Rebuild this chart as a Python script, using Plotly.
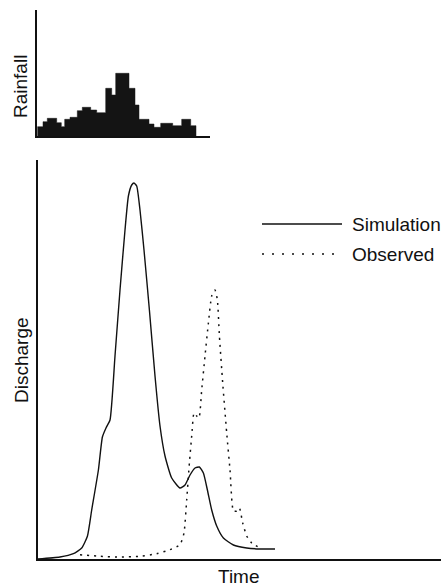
import plotly.graph_objects as go

W, H = 441, 587

# ---- Data (arbitrary units) ----
rain_edges = [0, 5.7, 10, 19.4, 24, 27.4, 32.7, 40, 45, 53.4, 59.4, 68.4, 74.4,
              78.4, 91.7, 97.7, 101.7, 111.7, 116.7, 123.4, 135.4, 144.4, 153.4, 158.7]
rain_values = [9.3, 14.3, 17.7, 13.3, 9.3, 16.7, 18.7, 25.3, 28.7, 26, 23.3, 47.7,
               41, 62.7, 47.7, 31, 16.7, 12, 8.7, 12.7, 10.3, 16.7, 10.3]

sim_t = [0, 22.3, 35.7, 44, 49.7, 54, 60.7, 64.7, 68.3, 72.3, 77.3, 82.3, 87.3, 90.7,
         94, 96.3, 99, 102.3, 106.3, 111.7, 117.3, 122.3, 127.3, 134, 142.3, 147.3,
         152.3, 157.3, 161.7, 165.7, 169.7, 174, 179, 185.7, 195.7, 209, 222.3, 237.3]
sim_q = [0, 2, 5.3, 11, 22.7, 49, 89, 122, 131, 139, 203, 269, 329, 363,
         374, 376, 373, 349, 309, 249, 183, 133, 103, 81, 71, 74,
         84, 91, 92, 86, 69, 49, 33, 21, 14, 11, 10, 10]

obs_t = [42.3, 62.3, 82.3, 102.3, 119, 132.3, 142.3, 146.3, 149, 151.7, 154, 156.3,
         159, 161.3, 164, 167.3, 170.7, 174, 177.3, 179.7, 181.7, 185, 189, 192.3,
         195.7, 199, 201.7, 205, 209, 214, 222.3]
obs_q = [4.3, 2.7, 2, 2.7, 5.3, 9.3, 14.3, 26, 59, 96, 123, 146,
         143, 141, 169, 203, 236, 263, 269, 259, 223, 176, 126, 89,
         48, 48, 51, 36, 23, 16, 11]

legend_names = ["Simulation", "Observed"]
axis_titles = {"rain_y": "Rainfall", "q_y": "Discharge", "x": "Time"}


def px(x):
    return x / W


def py(y):
    return 1 - y / H


FONT = "Liberation Sans, Arial, sans-serif"
FS = 19

fig = go.Figure()

# Rainfall hyetograph (step fill)
rx = []
ry = []
for i, v in enumerate(rain_values):
    rx += [rain_edges[i], rain_edges[i + 1]]
    ry += [v, v]
rx = [rain_edges[0]] + rx + [rain_edges[-1]]
ry = [0] + ry + [0]
fig.add_trace(go.Scatter(x=rx, y=ry, mode="lines", fill="toself",
                         fillcolor="#141414", line=dict(color="#141414", width=0.5),
                         xaxis="x", yaxis="y", showlegend=False, hoverinfo="skip"))

# Discharge curves
fig.add_trace(go.Scatter(x=sim_t, y=sim_q, mode="lines", name=legend_names[0],
                         line=dict(color="#111", width=1.4, shape="spline", smoothing=0.5),
                         xaxis="x2", yaxis="y2", showlegend=False))
fig.add_trace(go.Scatter(x=obs_t, y=obs_q, mode="lines", name=legend_names[1],
                         line=dict(color="#111", width=1.5, dash="2px,5px",
                                   shape="spline", smoothing=0.5),
                         xaxis="x2", yaxis="y2", showlegend=False))

ax_common = dict(showgrid=False, zeroline=False, showticklabels=False, ticks="",
                 showline=True, linecolor="#111", linewidth=1.5)

fig.update_layout(
    width=W, height=H,
    margin=dict(l=0, r=0, t=0, b=0),
    paper_bgcolor="white", plot_bgcolor="white",
    xaxis=dict(domain=[px(37.3), px(210)], range=[0, 172.7], anchor="y", **ax_common),
    yaxis=dict(domain=[py(136), py(10)], range=[0, 126], anchor="x", **ax_common),
    xaxis2=dict(domain=[px(37.7), 1], range=[0, 403.3], anchor="y2", **ax_common),
    yaxis2=dict(domain=[py(559), py(160)], range=[0, 399], anchor="x2", **ax_common),
    showlegend=False,
)

font = dict(family=FONT, size=FS, color="#111")
ann = [
    dict(text=axis_titles["rain_y"], x=px(20), y=py(87), textangle=-90),
    dict(text=axis_titles["q_y"], x=px(21), y=py(360), textangle=-90),
    dict(text=axis_titles["x"], x=px(239), y=py(576)),
    dict(text=legend_names[0], x=px(351), y=py(224), xanchor="left"),
    dict(text=legend_names[1], x=px(351), y=py(254), xanchor="left"),
]
for a in ann:
    a.setdefault("xanchor", "center")
    fig.add_annotation(xref="paper", yref="paper", yanchor="middle", showarrow=False,
                       borderpad=0, font=font, **a)

# custom legend keys
fig.add_shape(type="line", xref="paper", yref="paper", x0=px(262), x1=px(342),
              y0=py(224), y1=py(224), line=dict(color="#111", width=1.4))
fig.add_shape(type="line", xref="paper", yref="paper", x0=px(262), x1=px(342),
              y0=py(254), y1=py(254), line=dict(color="#111", width=1.6, dash="2px,8px"))

fig.write_html("out.html")
